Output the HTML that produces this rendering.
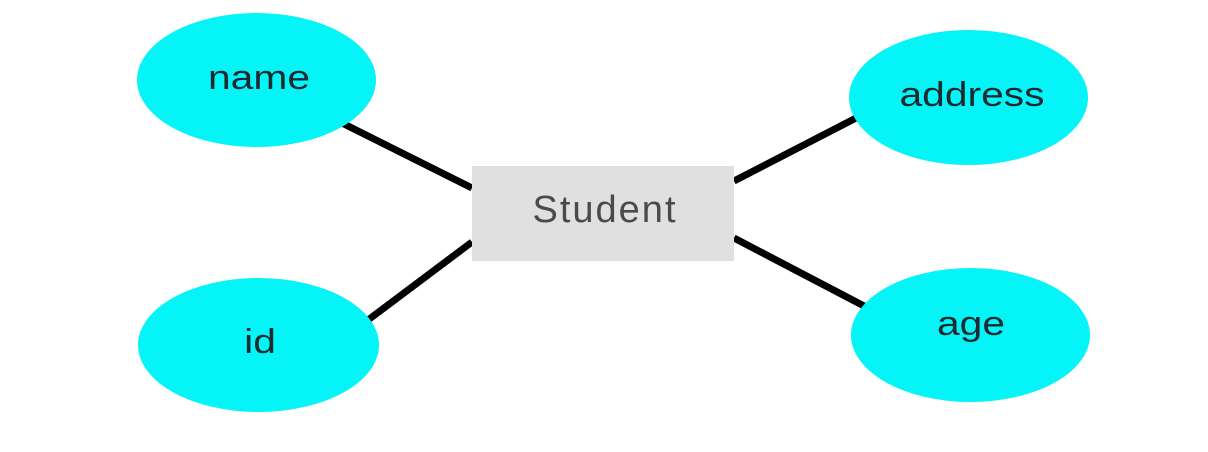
<!DOCTYPE html>
<html><head><meta charset="utf-8"><style>
html,body{margin:0;padding:0;background:#fff;width:1208px;height:452px;overflow:hidden}
</style></head><body>
<svg width="1208" height="452" viewBox="0 0 1208 452" xmlns="http://www.w3.org/2000/svg">
<g stroke="#000" stroke-width="7" stroke-linecap="butt">
<line x1="340" y1="122" x2="472" y2="188"/>
<line x1="364" y1="323" x2="472" y2="242"/>
<line x1="734" y1="181" x2="858" y2="117"/>
<line x1="734" y1="238" x2="866" y2="307"/>
</g>
<rect x="472" y="166" width="262" height="95" fill="#e0e0e0"/>
<text x="605" y="222" text-anchor="middle" font-family="Liberation Sans, sans-serif" font-size="38" fill="#4a4a4a" letter-spacing="2">Student</text>
<g fill="#04f4f7">
<ellipse cx="256.5" cy="80" rx="119.5" ry="67"/>
<ellipse cx="968.5" cy="97.5" rx="119.5" ry="67.5"/>
<ellipse cx="258.5" cy="345" rx="120.5" ry="67"/>
<ellipse cx="970.5" cy="335" rx="119.5" ry="67"/>
</g>
<g font-family="Liberation Sans, sans-serif" font-size="34" fill="#1d2a30" text-anchor="middle">
<text transform="translate(259,89) scale(1.2,1)">name</text>
<text transform="translate(972,106) scale(1.2,1)">address</text>
<text transform="translate(260,353) scale(1.2,1)">id</text>
<text transform="translate(971,335) scale(1.2,1)">age</text>
</g>
</svg>
</body></html>
